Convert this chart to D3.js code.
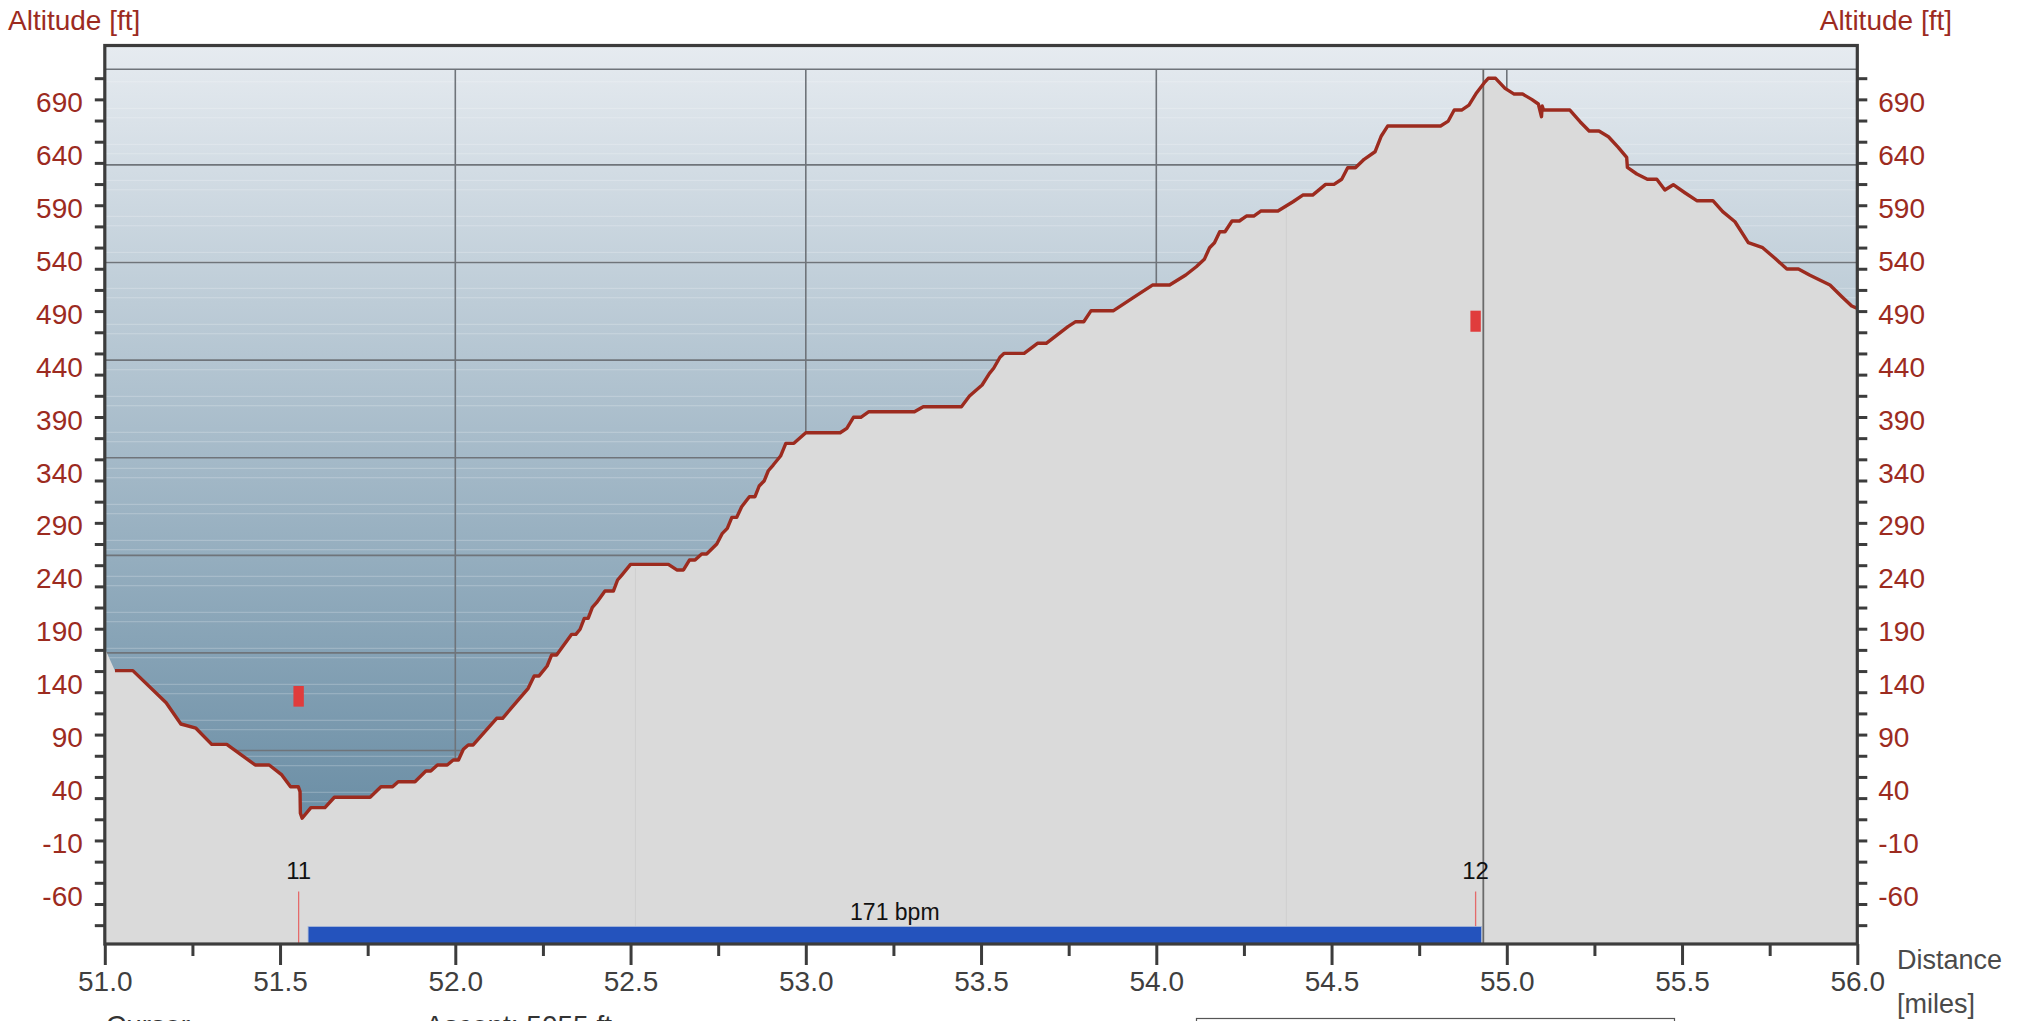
<!DOCTYPE html>
<html><head><meta charset="utf-8">
<script src="https://cdn.jsdelivr.net/npm/d3@7"></script>
<style>html,body{margin:0;padding:0;background:#fff;overflow:hidden}text{font-family:"Liberation Sans",Arial,sans-serif}</style>
</head><body><svg id="c" width="2028" height="1021"></svg>
<script>
// ---------- data ----------
const distance = [51.000,51.029,51.080,51.175,51.217,51.260,51.305,51.348,51.429,51.469,51.505,51.530,51.552,51.557,51.558,51.563,51.588,51.628,51.655,51.757,51.788,51.821,51.837,51.885,51.916,51.930,51.949,51.977,51.994,52.009,52.023,52.037,52.051,52.118,52.135,52.208,52.225,52.239,52.262,52.275,52.289,52.306,52.332,52.344,52.356,52.368,52.379,52.391,52.403,52.427,52.451,52.463,52.475,52.500,52.608,52.632,52.651,52.668,52.684,52.703,52.717,52.746,52.762,52.776,52.789,52.803,52.817,52.839,52.855,52.867,52.881,52.893,52.907,52.928,52.943,52.966,53.000,53.098,53.117,53.136,53.157,53.180,53.310,53.335,53.444,53.467,53.503,53.524,53.536,53.554,53.566,53.623,53.661,53.686,53.748,53.770,53.793,53.814,53.878,53.931,53.989,54.038,54.084,54.114,54.137,54.152,54.166,54.181,54.196,54.216,54.237,54.257,54.278,54.298,54.347,54.390,54.418,54.446,54.483,54.507,54.529,54.546,54.568,54.593,54.624,54.642,54.660,54.811,54.833,54.850,54.871,54.892,54.914,54.938,54.947,54.968,54.995,55.021,55.045,55.071,55.090,55.099,55.101,55.105,55.180,55.209,55.235,55.263,55.290,55.318,55.342,55.344,55.371,55.401,55.428,55.451,55.475,55.508,55.542,55.588,55.616,55.651,55.689,55.730,55.765,55.799,55.832,55.865,55.922,55.956,55.984,56.000];
const altitude = [174.5,153.4,153.4,123.1,103.0,99.0,83.8,83.8,64.3,64.3,54.9,43.8,43.8,39.1,18.7,14.0,24.0,24.0,33.8,33.8,43.8,43.8,48.5,48.5,58.6,58.6,64.3,64.3,69.0,69.0,79.1,83.2,83.2,108.4,108.4,136.7,148.4,148.4,157.8,168.2,168.2,176.0,187.7,187.7,192.5,202.8,202.8,213.2,217.6,228.6,228.6,239.0,243.7,253.8,253.8,248.5,248.5,257.9,257.9,263.6,263.6,273.0,283.1,287.8,298.2,298.2,308.2,317.7,317.7,327.8,332.5,342.2,347.6,356.1,368.1,368.1,378.1,378.1,382.3,392.7,392.7,398.0,398.0,402.7,402.7,412.8,423.2,434.2,439.0,449.4,453.1,453.1,462.6,462.6,478.3,483.0,483.0,493.4,493.4,505.1,517.6,517.6,527.1,534.9,541.9,552.9,557.6,568.0,568.0,578.1,578.1,582.8,582.8,587.5,587.5,596.3,602.6,602.6,612.7,612.7,617.5,628.4,628.4,636.4,643.5,658.4,667.8,667.8,672.5,682.9,682.9,687.6,699.3,709.6,712.9,712.9,703.4,698.0,698.0,693.0,688.6,676.6,686.7,682.9,682.9,671.9,663.1,663.1,657.7,647.7,638.2,628.8,622.5,617.5,617.5,607.4,612.4,604.8,597.3,597.3,586.9,577.4,557.6,552.9,542.9,532.7,532.7,526.8,517.6,506.6,497.8,495.6];

const yLabels = [690,640,590,540,490,440,390,340,290,240,190,140,90,40,-10,-60];
const yMinorTicks = [713,693,673,653,633,613,593,573,553,533,513,493,473,453,433,413,393,373,353,333,313,293,273,253,233,213,193,173,153,133,113,93,73,53,33,13,-7,-27,-47,-67,-87];
const xMajorTicks = [51.0,51.5,52.0,52.5,53.0,53.5,54.0,54.5,55.0,55.5,56.0];
const xMinorTicks = [51.25,51.75,52.25,52.75,53.25,53.75,54.25,54.75,55.25,55.75];
const gridAltitudes = [721.4,631.1,538.9,446.7,354.5,262.3,170.2,78.0,-14.2];
const gridDistances = [52,53,54,55];
const stripesA = [709.6,675.6,641.6,607.6,573.6,539.6,505.6,471.6,437.6,403.6,369.6,335.6,301.6,267.6,233.6,199.6,165.6,131.6,97.6,63.6,29.6,-4.4,-38.4,-72.4];
const stripesB = [684.5,650.5,616.5,582.5,548.5,514.5,480.5,446.5,412.5,378.5,344.5,310.5,276.5,242.5,208.5,174.5,140.5,106.5,72.5,38.5,4.5,-29.5,-63.5,-97.5];
const faintDistances = [52.514,54.371];
const cursorDistance = 54.933;
const laps = [11,12];
const lapDistances = [51.553,54.911];
const lapMarkHigh = [138.9,493.4];
const lapMarkLow = [119.4,473.5];
const hrStart = [51.580];
const hrEnd = [54.928];
const hrLabel = ["171 bpm"];

// ---------- layout ----------
const L=104.8, R=1857.3, T=46, B=944;
const svg = d3.select("#c");
const x = d3.scaleLinear([51,56],[L,R]);
const y = d3.scaleLinear([-104.8,743.4],[B,T]);
const RED="#9c2b1f", AX="#3c3c3c";
const fmtInt = d => String(d);   // plain hyphen-minus like the reference

const defs = svg.append("defs");
const grad = defs.append("linearGradient").attr("id","bg").attr("gradientUnits","userSpaceOnUse")
  .attr("x1",0).attr("y1",T).attr("x2",0).attr("y2",B);
grad.append("stop").attr("offset","0%").attr("stop-color","#e6ebf0");
grad.append("stop").attr("offset","100%").attr("stop-color","#577f99");
defs.append("clipPath").attr("id","plot").append("rect").attr("x",L).attr("y",T).attr("width",R-L).attr("height",B-T);

const g = svg.append("g").attr("clip-path","url(#plot)");
g.append("rect").attr("x",L).attr("y",T).attr("width",R-L).attr("height",B-T).attr("fill","url(#bg)");

// stripes
g.selectAll("line.sa").data(stripesA.concat(stripesB)).join("line")
  .attr("x1",L).attr("x2",R).attr("y1",d=>y(d)).attr("y2",d=>y(d))
  .attr("stroke","#ffffff").attr("stroke-opacity",0.25).attr("stroke-width",1);

// grid
g.selectAll("line.gh").data(gridAltitudes).join("line")
  .attr("x1",L).attr("x2",R).attr("y1",d=>y(d)).attr("y2",d=>y(d))
  .attr("stroke","#6f747a").attr("stroke-width",1.6);
g.selectAll("line.gv").data(gridDistances).join("line")
  .attr("x1",d=>x(d)).attr("x2",d=>x(d)).attr("y1",y(gridAltitudes[0])).attr("y2",B)
  .attr("stroke","#6f747a").attr("stroke-width",1.6);

// area & line
const pts = distance.map((d,i)=>[d,altitude[i]]);
const area = d3.area().x(d=>x(d[0])).y0(B).y1(d=>y(d[1]));
g.append("path").datum(pts).attr("d",area).attr("fill","#dadada");

// faint vertical lines on grey
g.selectAll("line.fv").data(faintDistances).join("line")
  .attr("x1",d=>x(d)).attr("x2",d=>x(d))
  .attr("y1",d=>{const i=d3.bisectLeft(distance,d);return y(altitude[i])+4;}).attr("y2",B)
  .attr("stroke","#cfcfcf").attr("stroke-width",1);

// cursor
g.append("line").attr("x1",x(cursorDistance)).attr("x2",x(cursorDistance))
  .attr("y1",y(gridAltitudes[0])).attr("y2",B).attr("stroke","#6a6a6a").attr("stroke-width",1.8);

const line = d3.line().x(d=>x(d[0])).y(d=>y(d[1]));
g.append("path").datum(pts.slice(1)).attr("d",line).attr("fill","none")
  .attr("stroke",RED).attr("stroke-width",3.4).attr("stroke-linejoin","round");

// lap markers
laps.forEach((lap,i)=>{
  g.append("rect").attr("x",x(lapDistances[i])-5.2).attr("width",10.4)
    .attr("y",y(lapMarkHigh[i])).attr("height",y(lapMarkLow[i])-y(lapMarkHigh[i]))
    .attr("fill","#e03c3c");
  g.append("line").attr("x1",x(lapDistances[i])).attr("x2",x(lapDistances[i]))
    .attr("y1",891.5).attr("y2",B).attr("stroke","#e46a6a").attr("stroke-width",1.3);
  g.append("text").attr("x",x(lapDistances[i])).attr("y",870).attr("dy","0.36em")
    .attr("text-anchor","middle").attr("font-size",24).attr("fill","#111").text(lap);
});

// heart rate bar
hrStart.forEach((s,i)=>{
  g.append("rect").attr("x",x(s)).attr("width",x(hrEnd[i])-x(s)).attr("y",926.5).attr("height",B-926.5)
    .attr("fill","#2453bd").attr("stroke","#a9b8d8").attr("stroke-width",0.8);
  g.append("text").attr("x",(x(s)+x(hrEnd[i]))/2).attr("y",912).attr("dy","0.36em")
    .attr("text-anchor","middle").attr("font-size",23).attr("fill","#111").text(hrLabel[i]);
});

// frame
svg.append("rect").attr("x",L).attr("y",T-0.5).attr("width",R-L).attr("height",B-T+0.5)
  .attr("fill","none").attr("stroke",AX).attr("stroke-width",3.2);

// y ticks (left/right)
function styleAxis(sel){sel.select(".domain").remove();sel.selectAll(".tick line").attr("stroke",AX).attr("stroke-width",3);}
svg.append("g").attr("transform",`translate(${L},0)`)
  .call(d3.axisLeft(y).tickValues(yMinorTicks).tickSize(10).tickFormat("")).call(styleAxis);
svg.append("g").attr("transform",`translate(${R},0)`)
  .call(d3.axisRight(y).tickValues(yMinorTicks).tickSize(10).tickFormat("")).call(styleAxis);
// y labels
const yl = svg.append("g").attr("transform",`translate(${L},0)`)
  .call(d3.axisLeft(y).tickValues(yLabels).tickSize(0).tickPadding(22).tickFormat(fmtInt));
yl.select(".domain").remove();
yl.selectAll("text").attr("font-size",28).attr("fill",RED).attr("font-family","Liberation Sans, Arial, sans-serif");
const yr = svg.append("g").attr("transform",`translate(${R},0)`)
  .call(d3.axisRight(y).tickValues(yLabels).tickSize(0).tickPadding(21).tickFormat(fmtInt));
yr.select(".domain").remove();
yr.selectAll("text").attr("font-size",28).attr("fill",RED).attr("font-family","Liberation Sans, Arial, sans-serif");

// x axis
const xa = svg.append("g").attr("transform",`translate(0,${B})`)
  .call(d3.axisBottom(x).tickValues(xMajorTicks).tickSize(21).tickPadding(6).tickFormat(d=>d.toFixed(1)));
styleAxis(xa);
xa.selectAll("text").attr("font-size",28).attr("fill","#3f3f3f").attr("font-family","Liberation Sans, Arial, sans-serif");
svg.append("g").attr("transform",`translate(0,${B})`)
  .call(d3.axisBottom(x).tickValues(xMinorTicks).tickSize(12).tickFormat("")).call(styleAxis);

// titles
svg.append("text").attr("x",8).attr("y",30).attr("font-size",28).attr("fill",RED).text("Altitude [ft]");
svg.append("text").attr("x",1952).attr("y",30).attr("text-anchor","end").attr("font-size",28).attr("fill",RED).text("Altitude [ft]");
svg.append("text").attr("x",1897).attr("y",969).attr("font-size",27).attr("fill","#4a4a4a").text("Distance");
svg.append("text").attr("x",1897).attr("y",1013).attr("font-size",27).attr("fill","#4a4a4a").text("[miles]");

// status line at the bottom, cut by the window edge as in the reference
svg.append("text").attr("x",106).attr("y",1035).attr("font-size",28).attr("fill","#333").text("Cursor");
svg.append("text").attr("x",612).attr("y",1035).attr("text-anchor","end").attr("font-size",28).attr("fill","#333").text("Ascent: 5055 ft");
svg.append("rect").attr("x",1196.5).attr("y",1018.5).attr("width",478).attr("height",20)
  .attr("fill","none").attr("stroke","#555").attr("stroke-width",1.2);
</script></body></html>
